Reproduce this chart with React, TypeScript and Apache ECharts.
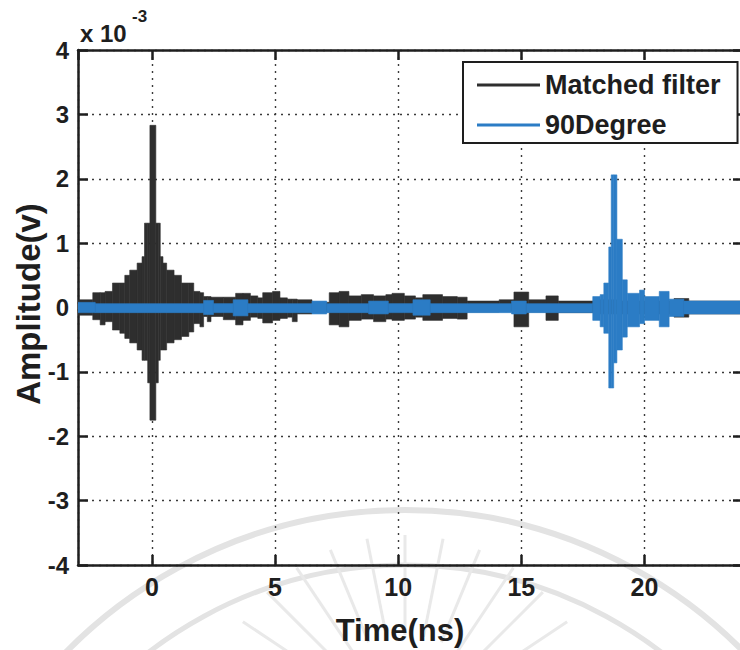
import React, { useEffect, useRef } from "react";
import * as echarts from "echarts";

// Values are in units of 10^-3 V; time in ns.
// Each series is a step envelope: segment start times, upper and lower envelope values.
const SERIES_END = 24.5;

const mfStart = [-3.0, -2.4, -2.1, -1.9, -1.6, -1.3, -1.1, -0.9, -0.6, -0.4, -0.3, -0.17, -0.08, 0.16, 0.26, 0.34, 0.45, 0.6, 0.9, 1.2, 1.5, 1.7, 1.95, 2.1, 2.25, 2.4, 2.9, 3.4, 3.7, 4.0, 4.3, 4.5, 4.9, 5.2, 5.5, 5.7, 5.9, 6.5, 7.2, 7.6, 8.0, 8.5, 9.0, 9.5, 9.75, 10.25, 10.7, 11.0, 11.8, 12.4, 12.8, 14.1, 14.7, 15.3, 16.0, 16.5, 18.0, 19.0, 21.2, 21.8];
const mfHigh = [0.12, 0.23, 0.23, 0.25, 0.38, 0.38, 0.5, 0.58, 0.69, 0.79, 1.31, 1.31, 2.83, 1.31, 1.31, 0.79, 0.69, 0.58, 0.5, 0.38, 0.38, 0.25, 0.23, 0.17, 0.17, 0.16, 0.16, 0.22, 0.22, 0.18, 0.15, 0.23, 0.25, 0.15, 0.13, 0.13, 0.12, 0.08, 0.23, 0.25, 0.18, 0.2, 0.18, 0.2, 0.22, 0.18, 0.15, 0.2, 0.17, 0.16, 0.1, 0.12, 0.24, 0.12, 0.18, 0.1, 0.12, 0.1, 0.14, 0.1];
const mfLow = [-0.12, -0.19, -0.27, -0.22, -0.35, -0.4, -0.48, -0.55, -0.66, -0.82, -0.82, -1.17, -1.75, -1.17, -0.82, -0.66, -0.66, -0.55, -0.5, -0.45, -0.38, -0.25, -0.3, -0.14, -0.22, -0.14, -0.19, -0.27, -0.2, -0.15, -0.17, -0.24, -0.2, -0.17, -0.15, -0.22, -0.1, -0.07, -0.27, -0.3, -0.2, -0.18, -0.22, -0.18, -0.2, -0.18, -0.15, -0.2, -0.17, -0.18, -0.07, -0.06, -0.3, -0.07, -0.2, -0.08, -0.1, -0.1, -0.15, -0.1];

const dgStart = [-3.0, -2.3, 2.1, 2.5, 3.3, 3.9, 6.5, 7.1, 8.8, 9.6, 10.6, 11.3, 14.6, 15.2, 17.9, 18.2, 18.35, 18.55, 18.65, 18.75, 18.88, 19.1, 19.3, 19.8, 20.0, 20.6, 21.0, 21.6];
const dgHigh = [0.08, 0.06, 0.11, 0.06, 0.12, 0.06, 0.1, 0.06, 0.1, 0.06, 0.12, 0.06, 0.1, 0.06, 0.17, 0.2, 0.38, 0.94, 2.06, 2.06, 1.06, 0.43, 0.22, 0.27, 0.17, 0.25, 0.13, 0.1];
const dgLow = [-0.08, -0.08, -0.11, -0.08, -0.13, -0.08, -0.1, -0.08, -0.1, -0.08, -0.12, -0.08, -0.1, -0.08, -0.2, -0.3, -0.4, -1.25, -1.25, -0.86, -0.66, -0.46, -0.3, -0.25, -0.2, -0.3, -0.14, -0.1];

const seriesNames = ["Matched filter", "90Degree"];
const seriesColors = ["#2e2e2e", "#2b7cc5"];

const FONT = '"Liberation Sans", Arial, Helvetica, sans-serif';
const INK = "#1e1e1e";

function segments(start: number[], hi: number[], lo: number[]) {
  return start.map((t, i) => [t, i + 1 < start.length ? start[i + 1] : SERIES_END, hi[i], lo[i]]);
}

function envelopeSeries(name: string, color: string, data: number[][]) {
  return {
    type: "custom",
    name,
    coordinateSystem: "cartesian2d",
    xAxisIndex: 0,
    yAxisIndex: 0,
    itemStyle: { color },
    encode: { x: [0, 1], y: [2, 3] },
    clip: true,
    data,
    renderItem: (_params: any, api: any) => {
      const p1 = api.coord([api.value(0), api.value(2)]);
      const p2 = api.coord([api.value(1), api.value(3)]);
      return {
        type: "rect",
        shape: { x: p1[0], y: p1[1], width: p2[0] - p1[0], height: p2[1] - p1[1] },
        style: { fill: color, stroke: color, lineWidth: 0.6 },
      };
    },
  };
}

function watermark() {
  const els: any[] = [];
  const stroke = "#e3e3e3";
  els.push({
    type: "arc",
    silent: true,
    z: 0,
    shape: { cx: 405, cy: 985, r: 475, startAngle: -Math.PI * 0.8, endAngle: -Math.PI * 0.2 },
    style: { stroke, lineWidth: 6, fill: "none" },
  });
  els.push({
    type: "arc",
    silent: true,
    z: 0,
    shape: { cx: 405, cy: 985, r: 420, startAngle: -Math.PI * 0.8, endAngle: -Math.PI * 0.2 },
    style: { stroke, lineWidth: 5, fill: "none" },
  });
  const cx = 405;
  const cy = 730;
  for (let k = 0; k < 15; k++) {
    const a = Math.PI + (Math.PI * (k + 1)) / 16;
    els.push({
      type: "line",
      silent: true,
      z: 0,
      shape: {
        x1: cx + 95 * Math.cos(a),
        y1: cy + 95 * Math.sin(a),
        x2: cx + 195 * Math.cos(a),
        y2: cy + 195 * Math.sin(a),
      },
      style: { stroke: "#e9e9e9", lineWidth: 3 },
    });
  }
  return els;
}

export default function App() {
  const ref = useRef<HTMLDivElement>(null);

  useEffect(() => {
    if (!ref.current) return;
    const chart = echarts.init(ref.current, null, { renderer: "svg" });
    const gridLine = { show: true, lineStyle: { type: [2, 5] as any, color: "#3a3a3a", width: 1.4 } };
    const axisLine = { show: true, onZero: false, lineStyle: { color: INK, width: 2.5 } };
    const axisTick = { show: true, inside: true, length: 10, lineStyle: { color: INK, width: 2.5 } };
    const labelStyle = { color: INK, fontFamily: FONT, fontWeight: "bold", fontSize: 24 };

    chart.setOption({
      animation: false,
      backgroundColor: "#ffffff",
      grid: { left: 78, top: 50, width: 665, height: 515, containLabel: false },
      xAxis: [
        {
          type: "value",
          min: -3,
          max: 24,
          minInterval: 5,
          maxInterval: 5,
          position: "bottom",
          axisLine,
          axisTick,
          splitLine: gridLine,
          axisLabel: { ...labelStyle, fontSize: 25, margin: 9, showMinLabel: false, showMaxLabel: false },
        },
        {
          type: "value",
          min: -3,
          max: 24,
          minInterval: 5,
          maxInterval: 5,
          position: "top",
          axisLine,
          axisTick,
          splitLine: { show: false },
          axisLabel: { show: false },
        },
      ],
      yAxis: [
        {
          type: "value",
          min: -4,
          max: 4,
          interval: 1,
          position: "left",
          axisLine,
          axisTick,
          splitLine: gridLine,
          axisLabel: { ...labelStyle, margin: 9 },
        },
        {
          type: "value",
          min: -4,
          max: 4,
          interval: 1,
          position: "right",
          axisLine,
          axisTick,
          splitLine: { show: false },
          axisLabel: { show: false },
        },
      ],
      legend: {
        show: true,
        orient: "vertical",
        left: 463,
        top: 62,
        icon: "rect",
        itemWidth: 63,
        itemHeight: 3,
        itemGap: 10,
        padding: [8, 17, 3, 14],
        backgroundColor: "#ffffff",
        borderColor: INK,
        borderWidth: 2,
        borderRadius: 0,
        data: seriesNames,
        textStyle: { color: INK, fontFamily: FONT, fontWeight: "bold", fontSize: 27, lineHeight: 30 },
      },
      graphic: [
        ...watermark(),
        {
          type: "text",
          silent: true,
          z: 10,
          style: {
            x: 80,
            y: 33,
            text: "x 10",
            fill: INK,
            fontFamily: FONT,
            fontWeight: "bold",
            fontSize: 24,
            align: "left",
            verticalAlign: "middle",
          },
        },
        {
          type: "text",
          silent: true,
          z: 10,
          style: {
            x: 132,
            y: 16,
            text: "-3",
            fill: INK,
            fontFamily: FONT,
            fontWeight: "bold",
            fontSize: 17,
            align: "left",
            verticalAlign: "middle",
          },
        },
        {
          type: "text",
          silent: true,
          z: 10,
          x: 28,
          y: 304,
          rotation: Math.PI / 2,
          style: {
            x: 0,
            y: 0,
            text: "Amplitude(v)",
            fill: INK,
            fontFamily: FONT,
            fontWeight: "bold",
            fontSize: 33,
            align: "center",
            verticalAlign: "middle",
          },
        },
        {
          type: "text",
          silent: true,
          z: 10,
          style: {
            x: 400,
            y: 630,
            text: "Time(ns)",
            fill: INK,
            fontFamily: FONT,
            fontWeight: "bold",
            fontSize: 31,
            align: "center",
            verticalAlign: "middle",
          },
        },
      ],
      series: [
        envelopeSeries(seriesNames[0], seriesColors[0], segments(mfStart, mfHigh, mfLow)),
        envelopeSeries(seriesNames[1], seriesColors[1], segments(dgStart, dgHigh, dgLow)),
      ],
    });
    return () => chart.dispose();
  }, []);

  return (
    <div
      style={{
        position: "fixed",
        left: 0,
        top: 0,
        width: 740,
        height: 650,
        overflow: "hidden",
        background: "#ffffff",
      }}
    >
      <div ref={ref} style={{ width: 760, height: 650 }} />
    </div>
  );
}
